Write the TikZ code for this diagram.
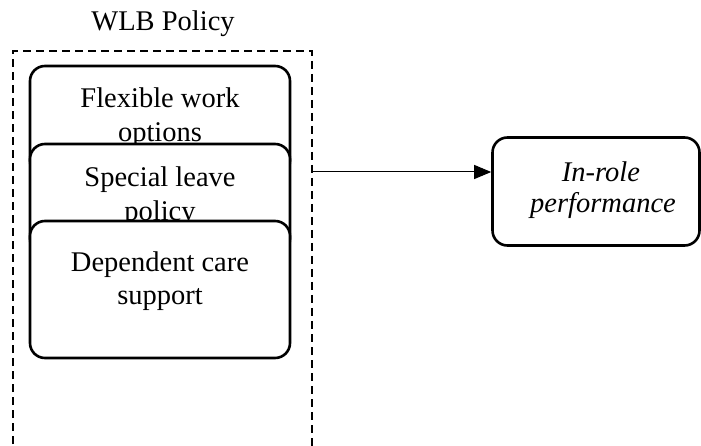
\documentclass[tikz,border=0pt]{standalone}
\usepackage{fontspec}
\setmainfont{Liberation Serif}
\usetikzlibrary{arrows.meta}
\begin{document}
\begin{tikzpicture}[x=1pt,y=-1pt,
  item/.style={draw=black,fill=white,line width=2.6pt,rounded corners=15pt},
  lbl/.style={font=\fontsize{28.5}{33}\selectfont,align=center,inner sep=0pt,anchor=base},
  grp/.style={draw=black,line width=2.2pt,dash pattern=on 8pt off 5pt}]
\useasboundingbox (0,0) rectangle (701,446);
\node[lbl] (title) at (163,31) {WLB Policy};
\draw[grp] (13,470) -- (13,51) -- (312,51) -- (312,470);
\coordinate (gout) at (312,172);
% box 1
\draw[item] (30,66) rectangle (290,176);
\node[lbl] (t1) at (160,108) {Flexible work};
\node[lbl] (t1b) at (160,142) {options};
% box 2
\draw[item] (30,144) rectangle (290,254);
\node[lbl] (t2) at (160,187) {Special leave};
\node[lbl] (t2b) at (160,221) {policy};
% box 3
\node[item,minimum width=260pt,minimum height=137pt,inner sep=0pt] (b3) at (160,289.5) {};
\node[lbl] (t3) at (160,272) {Dependent care};
\node[lbl] (t3b) at (160,305) {support};
% right box
\node[draw=black,line width=2.6pt,rounded corners=15pt,minimum width=207pt,minimum height=108pt,inner sep=0pt] (perf) at (596,191.5) {};
\node[lbl,font=\fontsize{28.5}{33}\selectfont\itshape] (tp1) at (601,182) {In-role};
\node[lbl,font=\fontsize{28.5}{33}\selectfont\itshape] (tp2) at (603,213) {performance};
\draw[line width=1pt,-{Triangle[length=17pt,width=14pt]}] (gout) -- (perf.west |- gout);
\end{tikzpicture}
\end{document}
